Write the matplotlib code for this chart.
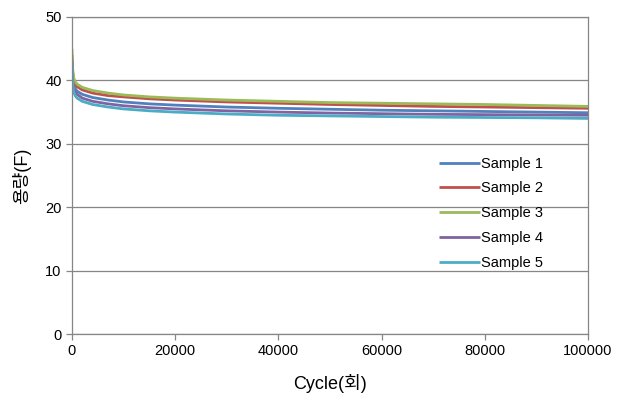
import matplotlib
matplotlib.use("Agg")
import matplotlib.pyplot as plt

plt.rcParams['font.family'] = ['Liberation Sans', 'Noto Sans CJK KR', 'DejaVu Sans']

cycles = [0, 100, 300, 600, 1000, 2000, 4000, 7000, 10000, 15000, 20000,
          30000, 40000, 50000, 60000, 70000, 80000, 90000, 100000]

sample1 = [43.5, 40.8, 39.3, 38.7, 38.3, 37.8, 37.3, 36.9, 36.6, 36.3, 36.1,
           35.8, 35.6, 35.45, 35.3, 35.2, 35.1, 35.0, 34.9]
sample2 = [44.0, 41.5, 40.0, 39.4, 39.0, 38.5, 38.0, 37.6, 37.4, 37.1, 36.9,
           36.6, 36.4, 36.2, 36.05, 35.9, 35.8, 35.7, 35.6]
sample3 = [45.0, 42.0, 40.5, 39.8, 39.4, 38.9, 38.4, 38.0, 37.7, 37.4, 37.2,
           36.9, 36.7, 36.5, 36.4, 36.3, 36.2, 36.05, 35.9]
sample4 = [43.0, 40.2, 38.8, 38.2, 37.8, 37.2, 36.7, 36.3, 36.0, 35.7, 35.5,
           35.2, 35.0, 34.85, 34.75, 34.65, 34.6, 34.55, 34.5]
sample5 = [43.0, 39.8, 38.3, 37.6, 37.2, 36.7, 36.2, 35.8, 35.5, 35.2, 35.0,
           34.7, 34.5, 34.4, 34.3, 34.2, 34.15, 34.1, 34.0]

labels = ['Sample 1', 'Sample 2', 'Sample 3', 'Sample 4', 'Sample 5']
series = [sample1, sample2, sample3, sample4, sample5]
colors = ['#4F81BD', '#C0504D', '#9BBB59', '#8064A2', '#4BACC6']

xticks = [0, 20000, 40000, 60000, 80000, 100000]
yticks = [0, 10, 20, 30, 40, 50]

fig = plt.figure(figsize=(6.27, 4.0), dpi=100)
ax = fig.add_axes([72/627, 1-334/400, (588-72)/627, (334-17)/400])

for vals, lab, c in zip(series, labels, colors):
    ax.plot(cycles, vals, color=c, lw=2.0, label=lab, solid_capstyle='butt')

ax.set_xlim(0, 100000)
ax.set_ylim(0, 50)
ax.set_xticks(xticks)
ax.set_yticks(yticks)
ax.set_xticklabels([str(t) for t in xticks])
ax.set_yticklabels([str(t) for t in yticks])
ax.grid(axis='y', color='#868686', lw=0.9)
ax.set_axisbelow(True)
for s in ax.spines.values():
    s.set_color('#868686')
    s.set_linewidth(0.9)
ax.tick_params(axis='both', colors='#868686', labelcolor='black', labelsize=10.5,
               length=4, width=0.9, direction='out')

ax.set_xlabel('Cycle(회)', fontsize=13, labelpad=11)
ax.set_ylabel('용량(F)', fontsize=13, labelpad=10)

leg = ax.legend(loc='upper left', bbox_to_anchor=(0.7, 0.578), frameon=False,
                fontsize=10.5, handlelength=2.8, handletextpad=0.05,
                labelspacing=0.74, borderaxespad=0)

fig.savefig('out.png', dpi=100)
